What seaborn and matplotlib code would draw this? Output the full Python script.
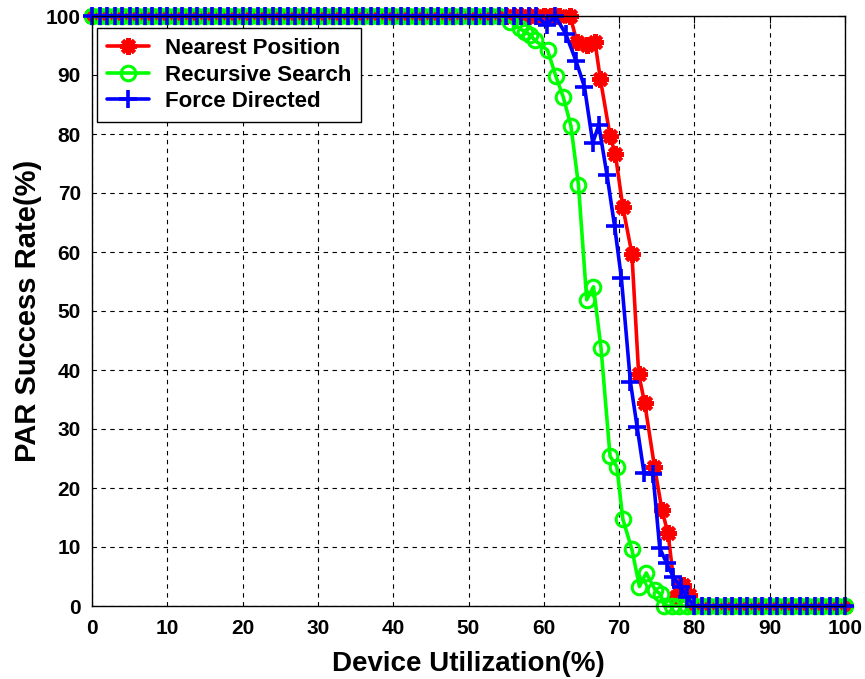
import matplotlib
matplotlib.use("Agg")
import matplotlib.pyplot as plt
import seaborn as sns
import pandas as pd

# Nearest Position
np_x = list(range(0, 63)) + [63.5, 64.4, 65.7, 66.8, 67.5, 68.8, 69.5, 70.5, 71.7, 72.6, 73.4,
                             74.7, 75.7, 76.5, 77.5, 78.5, 79.3] + list(range(80, 101))
np_y = [100.0] * 63 + [100.0, 95.6, 95.1, 95.6, 89.4, 79.7, 76.6, 67.6, 59.7, 39.3, 34.4,
                       23.6, 16.2, 12.3, 1.6, 3.6, 1.8] + [0.0] * 21

# Recursive Search
rs_x = list(range(0, 55)) + [55.5, 56.8, 57.5, 58.2, 58.8, 60.5, 61.6, 62.6, 63.6, 64.6, 65.7,
                             66.6, 67.6, 68.8, 69.7, 70.5, 71.7, 72.7, 73.6, 74.8, 75.5] + list(range(76, 101))
rs_y = [100.0] * 55 + [99.0, 97.9, 97.3, 96.8, 95.9, 94.2, 89.8, 86.2, 81.4, 71.4, 51.9,
                       54.1, 43.7, 25.4, 23.6, 14.7, 9.6, 3.3, 5.6, 2.7, 2.0] + [0.0] * 25

# Force Directed
fd_x = list(range(0, 60)) + [60.4, 61.5, 62.9, 64.3, 65.4, 66.5, 67.3, 68.4, 69.4, 70.3, 71.5,
                             72.4, 73.3, 74.5, 75.4, 76.3, 77.2, 78.2, 79.0] + list(range(80, 101))
fd_y = [100.0] * 60 + [98.5, 100.0, 97.0, 92.3, 88.0, 78.5, 81.5, 73.0, 64.4, 55.6, 38.0,
                       30.3, 22.6, 22.3, 9.8, 7.3, 4.9, 3.2, 1.5] + [0.0] * 21

series_names = ["Nearest Position", "Recursive Search", "Force Directed"]
x_ticks = [0, 10, 20, 30, 40, 50, 60, 70, 80, 90, 100]
y_ticks = [0, 10, 20, 30, 40, 50, 60, 70, 80, 90, 100]

sns.set_theme(style="white")
plt.rcParams["font.family"] = ["Liberation Sans", "DejaVu Sans"]
plt.rcParams["font.weight"] = "bold"
plt.rcParams["text.color"] = "black"
plt.rcParams["axes.labelcolor"] = "black"
plt.rcParams["xtick.color"] = "black"
plt.rcParams["ytick.color"] = "black"

fig = plt.figure(figsize=(8.65, 6.79), dpi=100)
ax = fig.add_axes([92 / 865, 1 - 606 / 679, 753 / 865, 590 / 679])

frames = [
    pd.DataFrame({"x": np_x, "y": np_y}),
    pd.DataFrame({"x": rs_x, "y": rs_y}),
    pd.DataFrame({"x": fd_x, "y": fd_y}),
]
styles = [
    dict(color="#ff0000", marker=(8, 2, 0), markersize=12, markeredgewidth=3.0,
         markeredgecolor="#ff0000"),
    dict(color="#00ff00", marker="o", markersize=10.5, markeredgewidth=2.2,
         markerfacecolor="none", markeredgecolor="#00ff00"),
    dict(color="#0000ff", marker="+", markersize=13, markeredgewidth=2.6,
         markeredgecolor="#0000ff"),
]
for df, name, st in zip(frames, series_names, styles):
    sns.lineplot(data=df, x="x", y="y", ax=ax, label=name, linewidth=2.6,
                 estimator=None, sort=False, clip_on=False, **st)

ax.set_xlim(0, 100)
ax.set_ylim(0, 100)
ax.set_xticks(x_ticks)
ax.set_yticks(y_ticks)
ax.tick_params(direction="in", length=5, width=0.8, colors="black", labelsize=15,
               top=True, right=True)
ax.tick_params(axis="x", pad=9)
ax.tick_params(axis="y", pad=8)
for lbl in ax.get_xticklabels() + ax.get_yticklabels():
    lbl.set_fontweight("bold")
    lbl.set_color("black")
ax.grid(True, color="black", linestyle=(0, (4, 4)), linewidth=0.8)
for sp in ax.spines.values():
    sp.set_color("black")
    sp.set_linewidth(1.0)
    sp.set_visible(True)

ax.set_xlabel("Device Utilization(%)", fontsize=20, fontweight="bold", labelpad=10,
              color="black")
ax.set_ylabel("PAR Success Rate(%)", fontsize=21, fontweight="bold", labelpad=3,
              color="black")

leg = ax.legend(loc="upper left", bbox_to_anchor=(5 / 753, 578 / 590), borderaxespad=0,
                fontsize=16, frameon=True, fancybox=False, framealpha=1,
                edgecolor="black", handlelength=1.9, handletextpad=0.7,
                borderpad=0.45, labelspacing=0.25)
leg.get_frame().set_linewidth(1.0)
for t in leg.get_texts():
    t.set_fontweight("bold")
    t.set_color("black")

fig.savefig("out.png", dpi=100, facecolor="white")
